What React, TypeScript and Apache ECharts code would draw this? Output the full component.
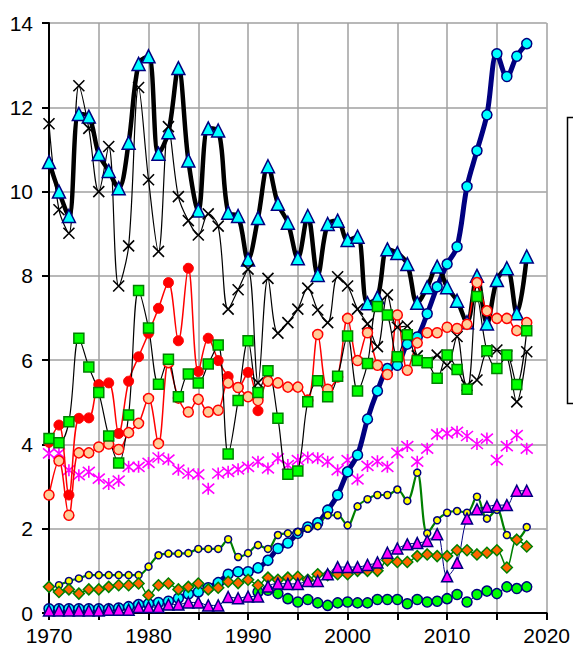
import React, { useEffect, useRef } from "react";
import * as echarts from "echarts";

const years = [
  1970, 1971, 1972, 1973, 1974, 1975, 1976, 1977, 1978, 1979,
  1980, 1981, 1982, 1983, 1984, 1985, 1986, 1987, 1988, 1989,
  1990, 1991, 1992, 1993, 1994, 1995, 1996, 1997, 1998, 1999,
  2000, 2001, 2002, 2003, 2004, 2005, 2006, 2007, 2008, 2009,
  2010, 2011, 2012, 2013, 2014, 2015, 2016, 2017, 2018,
];

// thick black line, cyan triangles
const seriesA = [
  10.7, 10.0, 9.42, 11.84, 11.78, 10.89, 10.49, 10.08, 11.16, 13.03,
  13.21, 10.9, 11.41, 12.93, 10.74, 9.55, 11.5, 11.45, 9.5, 9.42,
  8.39, 9.37, 10.6, 9.71, 9.26, 8.42, 9.42, 8.02, 9.23, 9.31,
  8.85, 8.93, 7.35, 7.49, 8.63, 8.54, 8.28, 7.36, 7.73, 8.22,
  7.73, 7.41, 6.9, 8.0, 6.87, 7.9, 8.18, 7.11, 8.46,
];
// thin black line, X markers
const seriesB = [
  11.61, 9.57, 9.01, 12.51, 11.5, 10.0, 11.07, 7.76, 8.71, 12.47,
  10.28, 8.58, 11.54, 9.88, 9.31, 8.97, 9.47, 9.18, 7.21, 7.67,
  8.16, 5.46, 7.94, 6.64, 6.89, 7.21, 7.71, 7.19, 6.89, 7.98,
  7.76, 7.21, 6.86, 6.32, 7.55, 6.78, 6.81, 6.1, 5.95, 6.12,
  5.88, 6.56, 5.4, 5.53, 6.2, 6.24, 6.1, 5.01, 6.2,
];
// red line, red filled circles
const seriesC = [
  4.05, 4.46, 2.8, 4.62, 4.63, 5.42, 5.46, 4.26, 5.5, 6.08,
  6.64, 7.23, 7.84, 6.46, 8.18, 5.73, 6.52, 5.99, 5.61, 5.35,
  5.71, 4.8, null, null, null, null, null, null, null, null,
  null, null, null, null, null, null, null, null, null, null,
  null, null, null, null, null, null, null, null, null,
];
// red line, peach circles
const seriesD = [
  2.8, 3.61, 2.32, 3.8, 3.8, 3.94, 4.01, 3.88, 4.28, 4.5,
  5.09, 4.02, 5.94, 5.1, 4.77, 5.07, 4.77, 4.81, 5.46, 5.35,
  5.13, 5.04, 5.5, 5.46, 5.36, 5.36, 5.05, 6.61, 5.31, 5.6,
  6.99, 5.99, 6.65, 5.88, 5.66, 7.07, 5.76, 6.41, 6.65, 6.65,
  6.78, 6.75, 6.85, 7.84, 7.17, 6.99, 6.99, 6.7, 6.89,
];
// thin black line, green squares
const seriesE = [
  4.14, 4.04, 4.54, 6.52, 5.84, 5.23, 4.2, 3.56, 4.7, 7.65,
  6.76, 5.43, 6.02, 5.13, 5.67, 5.46, 5.91, 6.36, 3.77, 5.04,
  6.46, 5.23, 5.75, 4.62, 3.29, 3.37, 5.01, 5.51, 5.13, 5.62,
  6.57, 5.27, 5.92, 7.27, 7.07, 6.08, 6.6, 5.99, 5.94, 5.57,
  6.12, 5.78, 5.31, 7.51, 6.22, 5.8, 6.12, 5.42, 6.7,
];
// magenta asterisks
const seriesF = [
  3.79, 3.79, 3.39, 3.27, 3.35, 3.19, 3.06, 3.14, 3.47, 3.47,
  3.56, 3.69, 3.64, 3.4, 3.31, 3.29, 2.95, 3.31, 3.35, 3.41,
  3.47, 3.59, 3.43, 3.67, 3.51, 3.63, 3.69, 3.67, 3.59, 3.39,
  3.63, 3.17, 3.49, 3.6, 3.47, 3.8, 3.96, 3.59, 3.9, 4.24,
  4.26, 4.3, 4.2, 4.01, 4.14, 3.63, 3.96, 4.22, 3.9,
];
// thick navy line, cyan circles
const seriesG = [
  0.1, 0.1, 0.1, 0.1, 0.1, 0.1, 0.1, 0.12, 0.15, 0.2,
  0.22, 0.25, 0.28, 0.35, 0.45, 0.5, 0.6, 0.72, 0.92, 0.98,
  0.98, 1.07, 1.25, 1.53, 1.66, 1.89, 2.04, 2.14, 2.44, 2.8,
  3.35, 3.75, 4.6, 5.27, 5.8, 5.88, 6.38, 6.55, 7.1, 7.74,
  8.28, 8.69, 10.12, 10.97, 11.82, 13.27, 12.73, 13.21, 13.51,
];
// green line, small yellow circles
const seriesH = [
  null, 0.66, 0.76, 0.82, 0.9, 0.9, 0.9, 0.9, 0.9, 0.9,
  1.1, 1.37, 1.41, 1.41, 1.42, 1.52, 1.52, 1.52, 1.75, 1.33,
  1.42, 1.61, 1.52, 1.85, 1.89, 1.92, 2.0, 2.06, 2.32, 2.32,
  2.08, 2.53, 2.7, 2.8, 2.8, 2.93, 2.66, 3.33, 1.89, 2.2,
  2.38, 2.42, 2.38, 2.76, 2.24, 2.45, 1.85, 1.75, 2.04,
];
// green line, orange diamonds
const seriesI = [
  0.62, 0.5, 0.56, 0.46, 0.56, 0.56, 0.62, 0.66, 0.66, 0.7,
  0.42, 0.66, 0.7, 0.56, 0.62, 0.7, 0.56, 0.6, 0.74, 0.71,
  0.79, 0.66, 0.84, 0.79, 0.84, 0.86, 0.79, 0.92, 0.9, 0.92,
  0.92, 1.0, 1.0, 1.0, 1.25, 1.21, 1.21, 1.35, 1.39, 1.35,
  1.35, 1.49, 1.49, 1.39, 1.43, 1.49, 1.08, 1.74, 1.58,
];
// navy thin line, magenta triangles
const seriesJ = [
  0.06, 0.06, 0.06, 0.06, 0.06, 0.06, 0.08, 0.08, 0.08, 0.14,
  0.14, 0.14, 0.2, 0.2, 0.25, 0.25, 0.18, 0.18, 0.38, 0.35,
  0.39, 0.39, 0.63, 0.7, 0.69, 0.69, 0.76, 0.76, 0.92, 1.09,
  1.09, 1.09, 1.14, 1.2, 1.43, 1.53, 1.63, 1.66, 1.71, 1.87,
  0.87, 1.19, 2.24, 2.46, 2.52, 2.56, 2.56, 2.9, 2.9,
];
// green circles
const seriesK = [
  null, null, null, null, null, null, null, null, null, null,
  null, null, null, null, null, null, null, null, null, null,
  null, 0.5, 0.54, 0.46, 0.34, 0.26, 0.32, 0.24, 0.18, 0.24,
  0.26, 0.24, 0.24, 0.32, 0.32, 0.32, 0.22, 0.32, 0.26, 0.28,
  0.34, 0.44, 0.26, 0.44, 0.52, 0.46, 0.62, 0.58, 0.62,
];

const xTicks = [1970, 1980, 1990, 2000, 2010, 2020];

const X_PATH = "path://M0,0 L10,10 M10,0 L0,10";
const STAR_PATH = "path://M0,0 L10,10 M10,0 L0,10 M5,-1 L5,11";

function pairs(vals: (number | null)[]) {
  return years.map((y, i) => [y, vals[i] == null ? "-" : vals[i]]);
}

export default function App() {
  const ref = useRef<HTMLDivElement>(null);
  useEffect(() => {
    if (!ref.current) return;
    const chart = echarts.init(ref.current, null, { renderer: "svg" });
    const font = "'Liberation Sans', Arial, sans-serif";
    const lineSeries = (
      name: string,
      vals: (number | null)[],
      lineColor: string,
      lineWidth: number,
      symbol: string,
      size: number,
      fill: string,
      border: string,
      borderWidth: number,
      smooth: number
    ) => ({
      type: "line",
      name,
      data: pairs(vals),
      smooth,
      symbol,
      symbolSize: size,
      showSymbol: true,
      connectNulls: false,
      lineStyle: { color: lineColor, width: lineWidth },
      itemStyle: { color: fill, borderColor: border, borderWidth, opacity: 1 },
      emphasis: { disabled: true },
    });
    chart.setOption({
      animation: false,
      backgroundColor: "#ffffff",
      grid: { left: 49, top: 23, width: 499, height: 590, containLabel: false },
      xAxis: {
        type: "value",
        min: 1970,
        max: 2020,
        interval: 5,
        axisLine: { show: true, onZero: false, lineStyle: { color: "#000", width: 2 } },
        axisTick: { show: true, inside: false, length: 7, lineStyle: { color: "#000", width: 2 } },
        axisLabel: {
          margin: 12,
          fontSize: 21,
          color: "#000",
          fontFamily: font,
          formatter: (v: number) => (xTicks.indexOf(v) >= 0 ? String(v) : ""),
        },
        splitLine: { show: true, lineStyle: { color: "#a0a0a0", width: 1.5 } },
      },
      yAxis: {
        type: "value",
        min: 0,
        max: 14,
        interval: 2,
        axisLine: { show: true, lineStyle: { color: "#000", width: 2 } },
        axisTick: { show: true, inside: false, length: 7, lineStyle: { color: "#000", width: 2 } },
        axisLabel: { margin: 16, fontSize: 21, color: "#000", fontFamily: font },
        splitLine: { show: true, lineStyle: { color: "#a0a0a0", width: 1.5 } },
      },
      graphic: [
        {
          type: "rect",
          shape: { x: 567.5, y: 117.5, width: 40, height: 286 },
          style: { fill: "#fff", stroke: "#000", lineWidth: 1.5 },
          z: 100,
        },
      ],
      series: [
        lineSeries("G", seriesG, "#000080", 5, "circle", 10, "#00ffff", "#000080", 1.5, 0.35),
        lineSeries("A", seriesA, "#000000", 4.5, "triangle", 13, "#00ffff", "#000080", 1.5, 0.35),
        lineSeries("B", seriesB, "#000000", 1.2, X_PATH, 11, "#000000", "#000000", 1.6, 0.35),
        lineSeries("C", seriesC, "#ff0000", 1.5, "circle", 10, "#ff0000", "#ff0000", 1, 0.35),
        lineSeries("D", seriesD, "#ff0000", 1.5, "circle", 10, "#ffcc99", "#ff0000", 1.5, 0.35),
        lineSeries("E", seriesE, "#000000", 1.2, "rect", 10, "#00ff00", "#008000", 1.5, 0.35),
        {
          type: "scatter",
          name: "F",
          data: pairs(seriesF),
          symbol: STAR_PATH,
          symbolSize: 12,
          itemStyle: { color: "#ff00ff", borderColor: "#ff00ff", borderWidth: 1.6, opacity: 1 },
          emphasis: { disabled: true },
        },
        lineSeries("K", seriesK, "#000080", 1, "circle", 10, "#00ff00", "#000080", 1.5, 0.35),
        lineSeries("H", seriesH, "#008000", 2.2, "circle", 7, "#ffff00", "#000080", 1.5, 0.35),
        lineSeries("I", seriesI, "#008000", 1.5, "diamond", 11, "#ff6600", "#008000", 1.5, 0.35),
        lineSeries("J", seriesJ, "#000080", 1, "triangle", 11, "#ff00ff", "#000080", 1.5, 0.35),
      ],
    });
    return () => chart.dispose();
  }, []);
  return (
    <div
      ref={ref}
      style={{ position: "fixed", left: 0, top: 0, width: 573, height: 648, background: "#fff" }}
    />
  );
}
